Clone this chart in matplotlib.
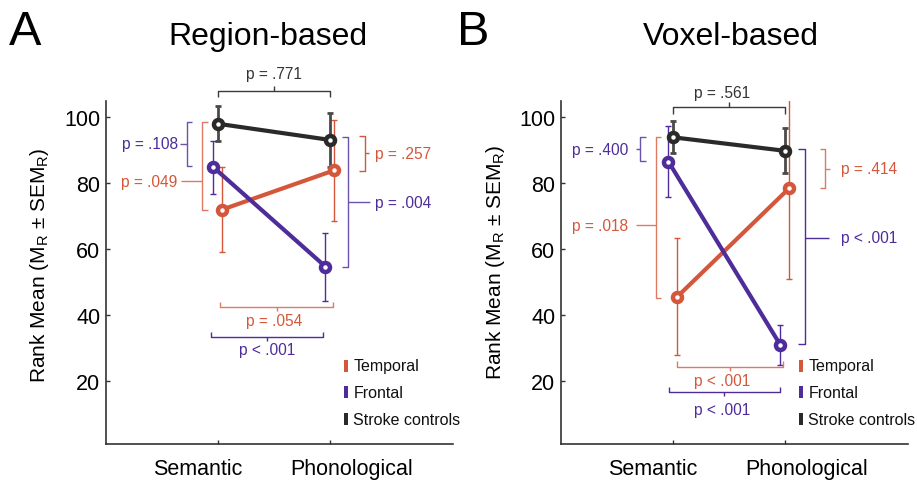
import numpy as np
import matplotlib
matplotlib.use("Agg")
import matplotlib.pyplot as plt

plt.rcParams["font.family"] = ["Liberation Sans", "DejaVu Sans"]
plt.rcParams["mathtext.fontset"] = "custom"
plt.rcParams["mathtext.rm"] = "Liberation Sans"

conditions = ["Semantic", "Phonological"]
groups = ["Temporal", "Frontal", "Stroke controls"]

# region-based rank means and SEM
region_mean = {"Temporal": [72.1, 84.0], "Frontal": [84.9, 54.8], "Stroke controls": [98.1, 93.2]}
region_sem = {"Temporal": [12.8, 15.3], "Frontal": [8.0, 10.3], "Stroke controls": [5.3, 8.2]}

# voxel-based rank means and SEM
voxel_mean = {"Temporal": [45.7, 78.6], "Frontal": [86.6, 31.0], "Stroke controls": [94.0, 89.9]}
voxel_sem = {"Temporal": [17.7, 27.7], "Frontal": [10.7, 6.0], "Stroke controls": [4.8, 6.8]}

region_p = [".771", ".108", ".049", ".257", ".004", ".054", "< .001"]
voxel_p = [".561", ".400", ".018", ".414", "< .001", "< .001", "< .001"]

colors = {"Temporal": "#D5573B", "Frontal": "#4E2C9A", "Stroke controls": "#2A2A2A"}
err_colors = {"Temporal": "#D5573B", "Frontal": "#4E2C9A", "Stroke controls": "#4A4A4A"}
offsets = {"Temporal": 0.04, "Frontal": -0.04, "Stroke controls": 0.0}
ORANGE_BR = "#DC7A64"
PURPLE_BR = "#6A52AE"
GRAY_BR = "#3A3A3A"

fig = plt.figure(figsize=(9.17, 4.81), dpi=100)
axA = fig.add_axes([106 / 917, 36 / 481, 347 / 917, 343 / 481])
axB = fig.add_axes([561 / 917, 36 / 481, 347 / 917, 343 / 481])


def ptext(ax, x, y, s, color, ha="center", va="center"):
    ax.text(x, y, s, color=color, fontsize=11.2, ha=ha, va=va, clip_on=False)


def line(ax, xs, ys, color):
    ax.plot(xs, ys, color=color, lw=1.0, clip_on=False, solid_capstyle="butt")


def hbracket(ax, x0, x1, y, tip, mid, color):
    # horizontal bracket, tip = y of end ticks, mid = y of center tick
    line(ax, [x0, x0, x1, x1], [tip, y, y, tip], color)
    xm = (x0 + x1) / 2
    line(ax, [xm, xm], [y, mid], color)


def vbracket(ax, x, y0, y1, tip, conn, yc, color):
    # vertical bracket, tip = x of end ticks, conn = x end of connector at yc
    line(ax, [tip, x, x, tip], [y0, y0, y1, y1], color)
    line(ax, [x, conn], [yc, yc], color)


def panel(ax, means, sems):
    x = np.arange(1, len(conditions) + 1)
    for g in ["Temporal", "Frontal", "Stroke controls"]:
        xs = x + offsets[g]
        lw_e = 2.0 if g == "Stroke controls" else 1.0
        ax.errorbar(xs, means[g], yerr=sems[g], fmt="none", ecolor=err_colors[g],
                    elinewidth=lw_e, capsize=2.5, capthick=lw_e, zorder=2)
        ax.plot(xs, means[g], color=colors[g], lw=3, marker="o", ms=6.5,
                mew=3.2, mfc="white", mec=colors[g], zorder=3)
    ax.set_xlim(0, 3.1)
    ax.set_ylim(1, 105)
    ax.set_yticks([20, 40, 60, 80, 100])
    ax.set_xticks([1, 2])
    ax.set_xticklabels([])
    ax.set_xticks([0.82, 2.19], minor=True)
    ax.set_xticklabels(conditions, minor=True)
    ax.tick_params(axis="x", which="major", direction="in", length=3, width=1, color="#333333")
    ax.tick_params(axis="x", which="minor", length=0, labelsize=15.5, pad=10)
    ax.tick_params(axis="y", direction="in", length=3, width=1, color="#333333",
                   labelsize=15.5, pad=4)
    for s in ["top", "right"]:
        ax.spines[s].set_visible(False)
    for s in ["left", "bottom"]:
        ax.spines[s].set_color("#333333")
        ax.spines[s].set_linewidth(1.2)
    # legend
    for i, g in enumerate(groups):
        yy = [24.8, 16.7, 8.5][i]
        ax.plot([2.14], [yy], marker=[(-0.35, -1), (0.35, -1), (0.35, 1), (-0.35, 1)],
                ms=8, color=colors[g], mew=0, clip_on=False)
        ax.text(2.21, yy, g, fontsize=11.5, va="center", ha="left", color="#111111")


panel(axA, region_mean, region_sem)
panel(axB, voxel_mean, voxel_sem)

# panel A brackets
hbracket(axA, 1.0, 2.0, 108.0, 106.3, 109.5, GRAY_BR)
ptext(axA, 1.5, 113.3, "p = " + region_p[0], "#333333")
vbracket(axA, 0.72, 98.6, 85.2, 0.77, 0.66, 92.0, PURPLE_BR)
ptext(axA, 0.64, 92.0, "p = " + region_p[1], colors["Frontal"], ha="right")
vbracket(axA, 0.86, 98.7, 72.1, 0.91, 0.67, 80.7, ORANGE_BR)
ptext(axA, 0.64, 80.7, "p = " + region_p[2], colors["Temporal"], ha="right")
vbracket(axA, 2.31, 94.3, 83.9, 2.26, 2.35, 89.2, colors["Temporal"])
ptext(axA, 2.40, 89.2, "p = " + region_p[3], colors["Temporal"], ha="left")
vbracket(axA, 2.16, 94.1, 54.8, 2.11, 2.36, 74.3, PURPLE_BR)
ptext(axA, 2.40, 74.3, "p = " + region_p[4], colors["Frontal"], ha="left")
hbracket(axA, 1.02, 2.03, 42.6, 44.0, 41.3, ORANGE_BR)
ptext(axA, 1.5, 38.3, "p = " + region_p[5], colors["Temporal"])
hbracket(axA, 0.94, 1.94, 33.5, 35.1, 32.2, colors["Frontal"])
ptext(axA, 1.44, 29.7, "p " + region_p[6], colors["Frontal"])

# panel B brackets
hbracket(axB, 1.0, 2.0, 103.2, 101.2, 104.6, GRAY_BR)
ptext(axB, 1.44, 107.5, "p = " + voxel_p[0], "#333333")
vbracket(axB, 0.705, 94.0, 86.8, 0.756, 0.67, 90.3, PURPLE_BR)
ptext(axB, 0.60, 90.3, "p = " + voxel_p[1], colors["Frontal"], ha="right")
vbracket(axB, 0.845, 94.0, 45.4, 0.89, 0.67, 67.3, ORANGE_BR)
ptext(axB, 0.60, 67.3, "p = " + voxel_p[2], colors["Temporal"], ha="right")
vbracket(axB, 2.36, 90.3, 78.7, 2.31, 2.40, 84.5, ORANGE_BR)
ptext(axB, 2.50, 84.5, "p = " + voxel_p[3], colors["Temporal"], ha="left")
vbracket(axB, 2.18, 90.5, 31.4, 2.12, 2.39, 63.5, colors["Frontal"])
ptext(axB, 2.50, 63.5, "p " + voxel_p[4], colors["Frontal"], ha="left")
hbracket(axB, 1.036, 1.98, 24.4, 26.1, 23.2, ORANGE_BR)
ptext(axB, 1.44, 20.2, "p " + voxel_p[5], colors["Temporal"])
hbracket(axB, 0.964, 1.955, 16.7, 18.2, 15.5, colors["Frontal"])
ptext(axB, 1.44, 11.6, "p " + voxel_p[6], colors["Frontal"])

ylab = r"Rank Mean (M$_\mathregular{R}$ ± SEM$_\mathregular{R}$)"
fig.text(40 / 917, 1 - 265 / 481, ylab, rotation=90, fontsize=15, ha="center", va="center")
fig.text(495 / 917, 1 - 262 / 481, ylab, rotation=90, fontsize=15, ha="center", va="center")

fig.text(267.5 / 917, 1 - 45 / 481, "Region-based", fontsize=23, ha="center", va="baseline")
fig.text(731 / 917, 1 - 45 / 481, "Voxel-based", fontsize=23, ha="center", va="baseline")
fig.text(9 / 917, 1 - 45 / 481, "A", fontsize=35, ha="left", va="baseline")
fig.text(457 / 917, 1 - 45 / 481, "B", fontsize=35, ha="left", va="baseline")

fig.savefig("out.png", dpi=100)
